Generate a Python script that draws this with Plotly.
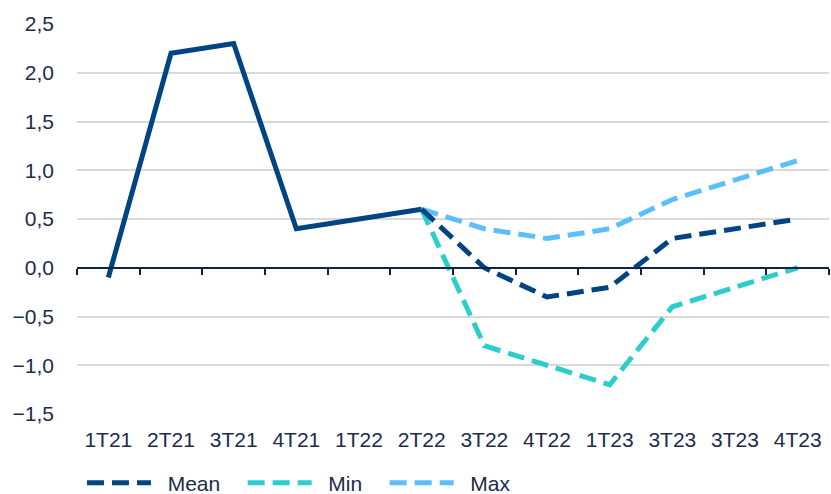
import plotly.graph_objects as go

categories = ["1T21", "2T21", "3T21", "4T21", "1T22", "2T22", "3T22", "4T22", "1T23", "3T23", "3T23", "4T23"]
hist_values = [-0.1, 2.2, 2.3, 0.4, 0.5, 0.6]
mean_values = [None, None, None, None, None, 0.6, 0.0, -0.3, -0.2, 0.3, 0.4, 0.5]
min_values = [None, None, None, None, None, 0.6, -0.8, -1.0, -1.2, -0.4, -0.2, 0.0]
max_values = [None, None, None, None, None, 0.6, 0.4, 0.3, 0.4, 0.7, 0.9, 1.1]
y_ticks = [-1.5, -1.0, -0.5, 0.0, 0.5, 1.0, 1.5, 2.0, 2.5]
series_names = ["Mean", "Min", "Max"]

NAVY = "#004481"
AQUA = "#2DCCCD"
LIGHT = "#5BBEFF"
TEXT = "#1d2b4c"

xs = list(range(len(categories)))
dash = "17px,8px"
pad = "\u00a0\u00a0"
tail = "\u00a0\u00a0\u00a0"

fig = go.Figure()
fig.add_trace(go.Scatter(x=xs, y=max_values, mode="lines", name=pad + series_names[2] + tail,
                         line=dict(color=LIGHT, width=5, dash=dash)))
fig.add_trace(go.Scatter(x=xs, y=min_values, mode="lines", name=pad + series_names[1] + tail,
                         line=dict(color=AQUA, width=5, dash=dash)))
fig.add_trace(go.Scatter(x=xs, y=mean_values, mode="lines", name=pad + series_names[0] + tail,
                         line=dict(color=NAVY, width=5, dash=dash)))
fig.add_trace(go.Scatter(x=xs[:len(hist_values)], y=hist_values, mode="lines",
                         showlegend=False, xaxis="x2",
                         line=dict(color=NAVY, width=5)))

yr = [-1.5, 2.5]
fig.update_layout(
    width=831, height=494,
    margin=dict(l=77, r=2, t=24, b=80, autoexpand=False),
    paper_bgcolor="white", plot_bgcolor="white",
    separators=",.",
    showlegend=True,
    legend=dict(orientation="h", x=0.0066, xref="paper", y=0.0223, yref="container",
                xanchor="left", yanchor="middle",
                traceorder="reversed", itemwidth=64,
                font=dict(family="Liberation Sans, Arial", size=21, color=TEXT)),
    xaxis=dict(range=[-0.5, len(categories) - 0.5], tickvals=xs, ticktext=categories,
               showgrid=False, zeroline=False, showline=False, ticks="",
               ticklabelstandoff=11, automargin=False,
               tickfont=dict(family="Liberation Sans, Arial", size=21, color=TEXT)),
    xaxis2=dict(range=[-0.5, len(categories) - 0.5], overlaying="x", anchor="free",
                position=(0 - yr[0]) / (yr[1] - yr[0]), automargin=False,
                showgrid=False, zeroline=False, showline=True, linecolor="#0b2447", linewidth=2,
                ticks="outside", ticklen=6, tickwidth=2, tickcolor="#0b2447",
                tickvals=[i - 0.5 for i in range(len(categories) + 1)], showticklabels=False),
    yaxis=dict(range=yr, tickvals=y_ticks, tickformat=".1f", automargin=False,
               showgrid=True, gridcolor="#d9d9d9", gridwidth=2, zeroline=False,
               showline=False, ticks="", ticklabelstandoff=22,
               tickfont=dict(family="Liberation Sans, Arial", size=21, color=TEXT)),
)

fig.write_html("out.html")
